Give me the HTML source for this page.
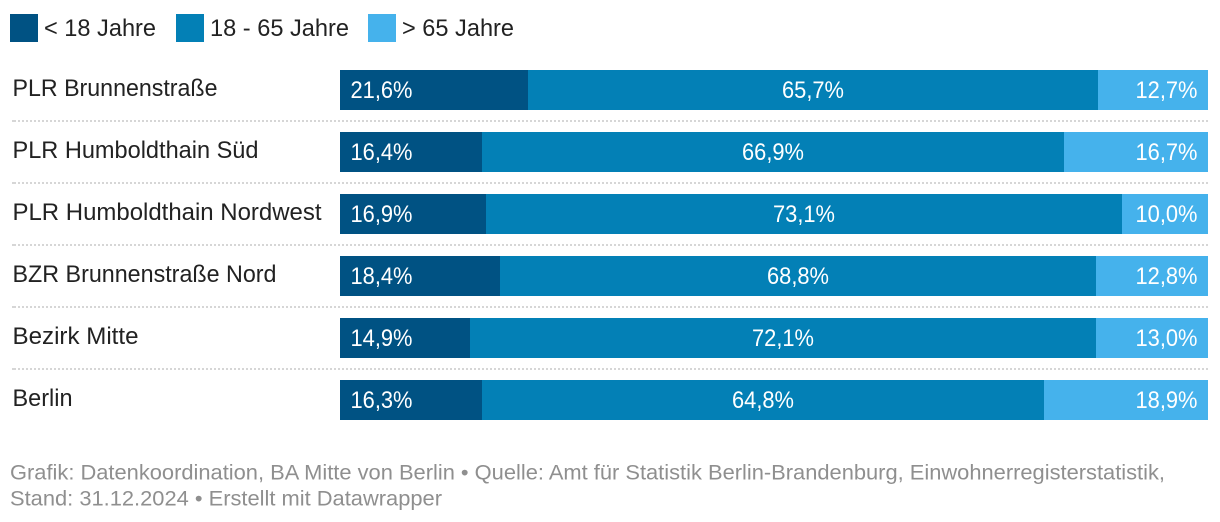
<!DOCTYPE html>
<html lang="de">
<head>
<meta charset="utf-8">
<title>Altersgruppen</title>
<style>
html,body{margin:0;padding:0;background:#fff;width:1220px;height:522px;overflow:hidden}
svg{display:block;font-family:"Liberation Sans",sans-serif}
</style>
</head>
<body>
<svg id="chart" width="1220" height="522" viewBox="0 0 1220 522" xmlns="http://www.w3.org/2000/svg">
  <g id="legend"></g>
  <g id="rows"></g>
  <text x="10" y="479.5" font-size="21" fill="#8f8f8f" textLength="1155" lengthAdjust="spacingAndGlyphs">Grafik: Datenkoordination, BA Mitte von Berlin • Quelle: Amt für Statistik Berlin-Brandenburg, Einwohnerregisterstatistik,</text>
  <text x="10" y="505.5" font-size="21" fill="#8f8f8f" textLength="432" lengthAdjust="spacingAndGlyphs">Stand: 31.12.2024 • Erstellt mit Datawrapper</text>
</svg>
<script>
const categories = ['PLR Brunnenstraße', 'PLR Humboldthain Süd', 'PLR Humboldthain Nordwest', 'BZR Brunnenstraße Nord', 'Bezirk Mitte', 'Berlin'];
const seriesNames = ['< 18 Jahre', '18 - 65 Jahre', '> 65 Jahre'];
const under18 = [21.6, 16.4, 16.9, 18.4, 14.9, 16.3];
const from18to65 = [65.7, 66.9, 73.1, 68.8, 72.1, 64.8];
const over65 = [12.7, 16.7, 10.0, 12.8, 13.0, 18.9];

const NS = 'http://www.w3.org/2000/svg';
const colors = ['#005283', '#0380b6', '#45b2ec'];
const series = [under18, from18to65, over65];
const plotLeft = 340, plotWidth = 868;
const xScale = v => plotWidth * v / 100;
const snap = x => 2 * Math.round(x / 2);
const rowY = i => 70 + i * 62;

function make(tag, attrs, text) {
  const el = document.createElementNS(NS, tag);
  for (const k in attrs) el.setAttribute(k, attrs[k]);
  if (text !== undefined) el.textContent = text;
  return el;
}

const legend = document.getElementById('legend');
const legendSwatchX = [10, 176, 368];
const legendTextW = [112, 139, 112];
seriesNames.forEach((name, s) => {
  const swatch = make('rect', {x: legendSwatchX[s], y: 14, width: 28, height: 28, fill: colors[s]});
  
  
  legend.appendChild(swatch);
  const label = make('text', {x: legendSwatchX[s] + 34, y: 36, 'font-size': 24, fill: '#222222', textLength: legendTextW[s], lengthAdjust: 'spacingAndGlyphs'}, name);
  
  
  legend.appendChild(label);
});

const rows = document.getElementById('rows');
const labelW = [205, 246, 309, 264, 126, 60];
categories.forEach((cat, i) => {
  const y = rowY(i);
  const label = make('text', {x: 12.5, y: y + 26, 'font-size': 24, fill: '#222222', textLength: labelW[i], lengthAdjust: 'spacingAndGlyphs'}, cat);
  
  
  rows.appendChild(label);

  let cum = 0;
  series.forEach((vals, s) => {
    const v = vals[i];
    const x0 = snap(plotLeft + xScale(cum));
    const x1 = s === series.length - 1 ? plotLeft + plotWidth : snap(plotLeft + xScale(cum + v));
    const w = x1 - x0;
    const bar = make('rect', {x: x0, y: y, width: w, height: 40, fill: colors[s], 'shape-rendering': 'crispEdges'});
    
    
    rows.appendChild(bar);

    const txt = v.toFixed(1).replace('.', ',') + '%';
    let tx, anchor;
    if (s === 0) { tx = x0 + 10.5; anchor = 'start'; }
    else if (s === 1) { tx = x0 + w / 2; anchor = 'middle'; }
    else { tx = x0 + w - 10.5; anchor = 'end'; }
    const val = make('text', {x: tx, y: y + 28, 'font-size': 24, fill: '#ffffff', 'text-anchor': anchor, textLength: 62, lengthAdjust: 'spacingAndGlyphs'}, txt);
    
    
    rows.appendChild(val);
    cum += v;
  });

  if (i < categories.length - 1) {
    const cap = make('rect', {x: 12, y: y + 50, width: 2, height: 2, fill: '#d6d6d6', 'shape-rendering': 'crispEdges'});
    
    
    rows.appendChild(cap);
    const sep = make('line', {x1: 14, x2: 1208, y1: y + 51, y2: y + 51, stroke: '#d6d6d6', 'stroke-width': 2, 'stroke-dasharray': '2 2', 'shape-rendering': 'crispEdges'});
    
    
    rows.appendChild(sep);
  }
});
</script>
</body>
</html>
